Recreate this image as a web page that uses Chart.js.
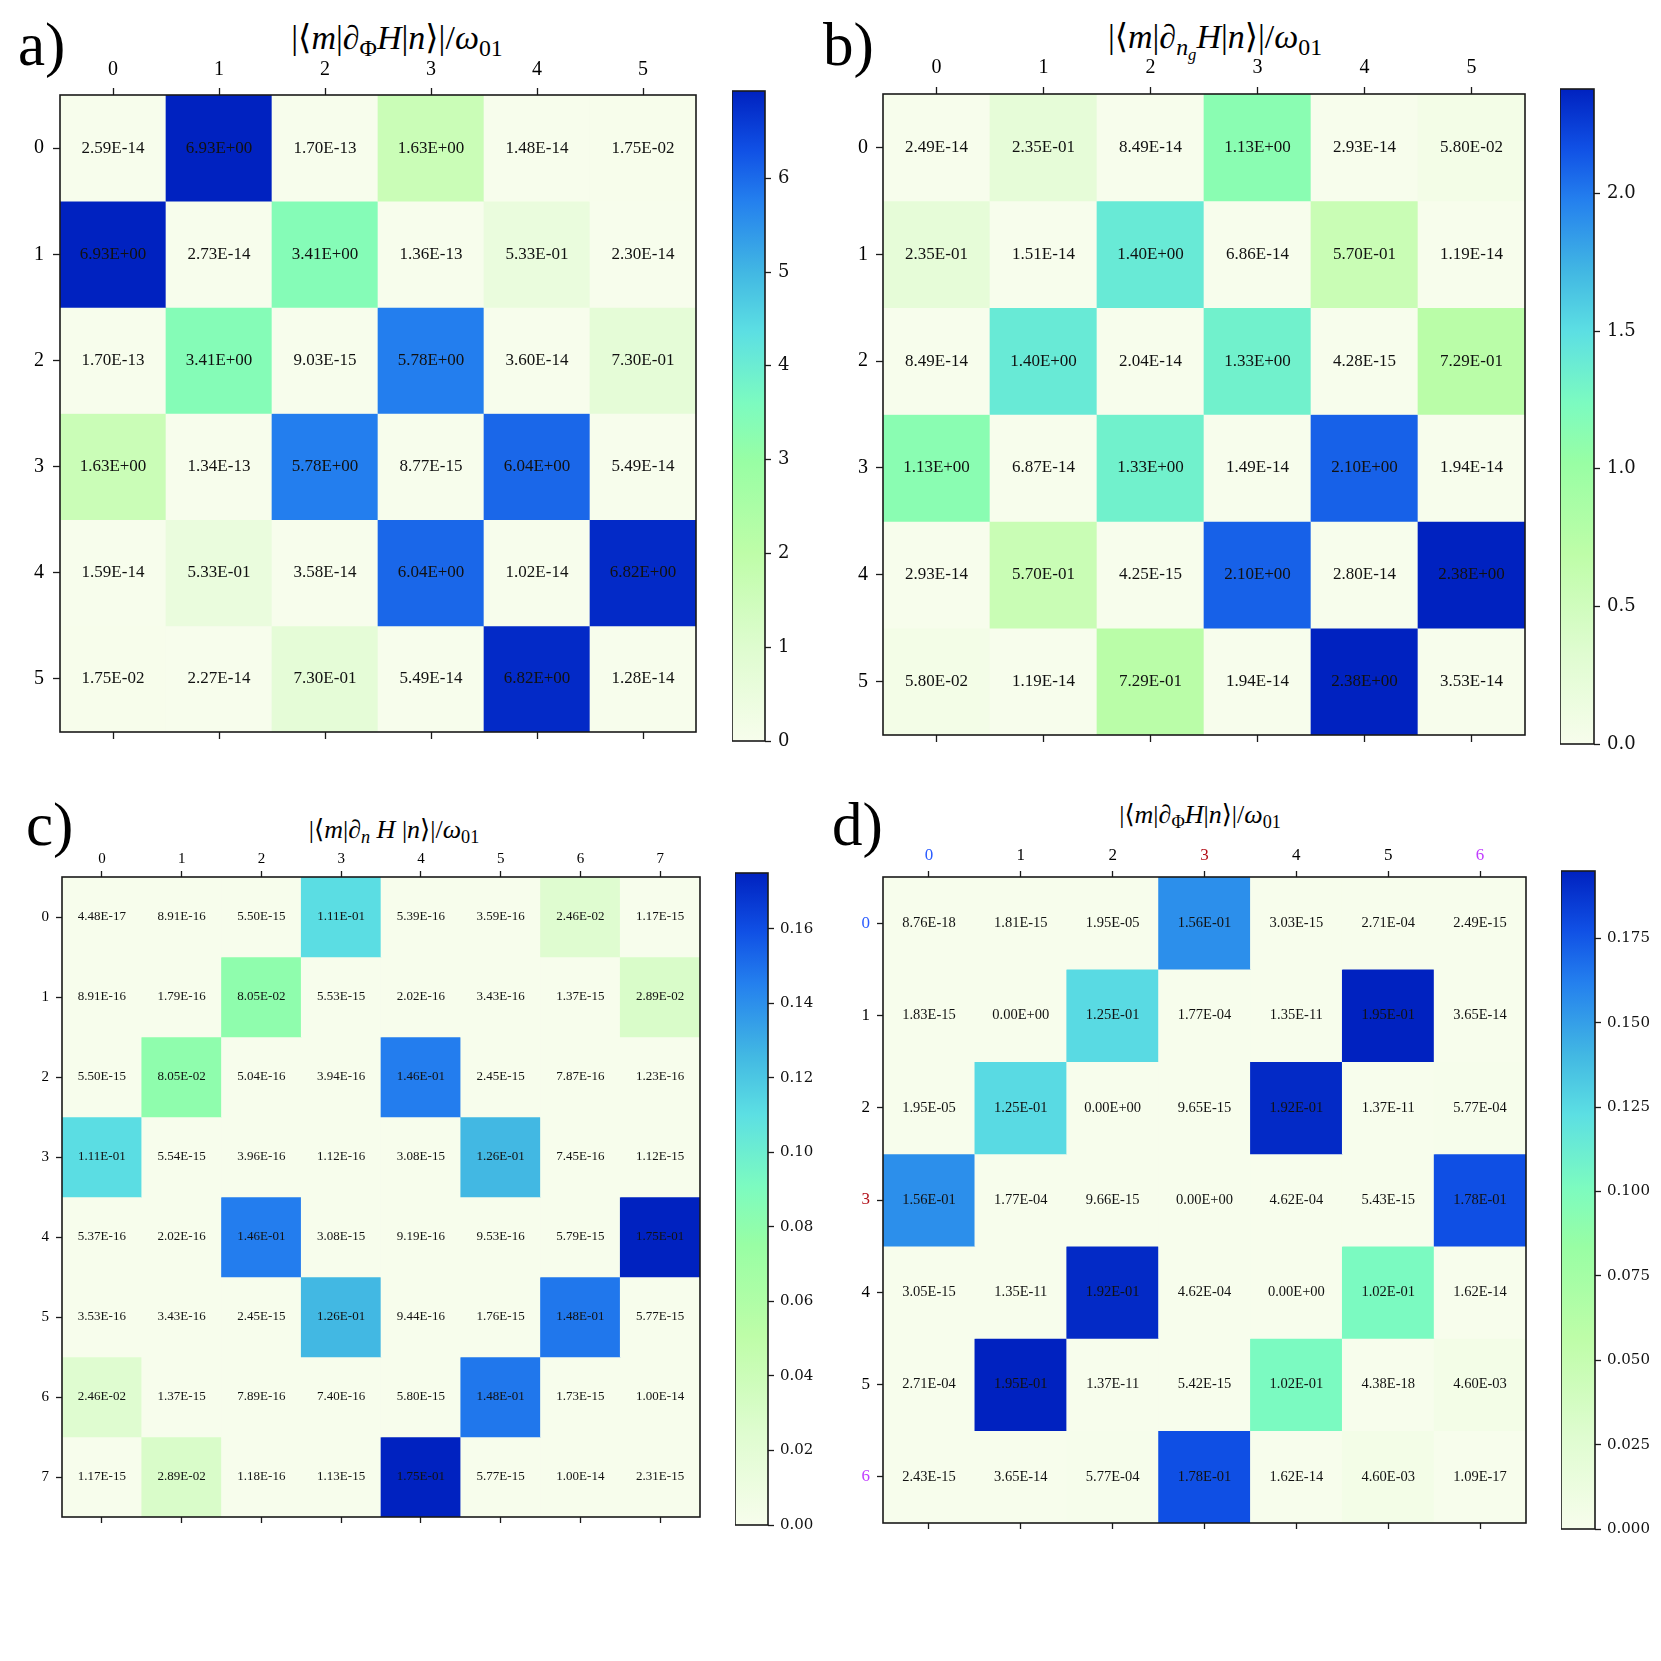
<!DOCTYPE html>
<html><head><meta charset="utf-8">
<script src="https://cdn.jsdelivr.net/npm/chart.js@4.4.0/dist/chart.umd.min.js"></script>
<style>
html,body{margin:0;padding:0;background:#fff;}
body{width:1661px;height:1661px;position:relative;overflow:hidden;font-family:'Liberation Serif','DejaVu Serif',serif;color:#000;}
canvas{position:absolute;}
.lbl{position:absolute;font-size:61px;line-height:1;white-space:nowrap;}
.ttl{position:absolute;white-space:nowrap;transform:translateX(-50%);line-height:1;}
.ttl i{font-style:italic;}
.ttl .s{font-size:70%;vertical-align:-0.28em;line-height:0;}
.ttl .ss{font-size:70%;vertical-align:-0.3em;line-height:0;}
</style></head><body>
<div class="lbl" style="left:18px;top:14px;">a)</div>
<div class="lbl" style="left:823px;top:14px;">b)</div>
<div class="lbl" style="left:26px;top:794px;">c)</div>
<div class="lbl" style="left:832px;top:794px;">d)</div>
<div class="ttl" style="left:397px;top:21px;font-size:34px;">|⟨<i>m</i>|<i>∂</i><span class="s">Φ</span><i>H</i>|<i>n</i>⟩|/<i>ω</i><span class="s">01</span></div>
<div class="ttl" style="left:1215px;top:20px;font-size:34px;">|⟨<i>m</i>|<i>∂</i><span class="s"><i>n</i><span class="ss"><i>g</i></span></span><i>H</i>|<i>n</i>⟩|/<i>ω</i><span class="s">01</span></div>
<div class="ttl" style="left:394px;top:817px;font-size:26px;">|⟨<i>m</i>|<i>∂</i><span class="s"><i>n</i></span> <i>H</i> |<i>n</i>⟩|/<i>ω</i><span class="s">01</span></div>
<div class="ttl" style="left:1200px;top:802px;font-size:26px;">|⟨<i>m</i>|<i>∂</i><span class="s">Φ</span><i>H</i>|<i>n</i>⟩|/<i>ω</i><span class="s">01</span></div>

<canvas id="ha"></canvas><canvas id="ca"></canvas>
<canvas id="hb"></canvas><canvas id="cb"></canvas>
<canvas id="hc"></canvas><canvas id="cc"></canvas>
<canvas id="hd"></canvas><canvas id="cd"></canvas>
<script>
// ---------------- data ----------------
const labelsA = ['0','1','2','3','4','5'];
const valuesA = [
  [2.59e-14, 6.93e+00, 1.70e-13, 1.63e+00, 1.48e-14, 1.75e-02],
  [6.93e+00, 2.73e-14, 3.41e+00, 1.36e-13, 5.33e-01, 2.30e-14],
  [1.70e-13, 3.41e+00, 9.03e-15, 5.78e+00, 3.60e-14, 7.30e-01],
  [1.63e+00, 1.34e-13, 5.78e+00, 8.77e-15, 6.04e+00, 5.49e-14],
  [1.59e-14, 5.33e-01, 3.58e-14, 6.04e+00, 1.02e-14, 6.82e+00],
  [1.75e-02, 2.27e-14, 7.30e-01, 5.49e-14, 6.82e+00, 1.28e-14]
];
const cbTicksA = [0, 1, 2, 3, 4, 5, 6];
const cbLabelsA = ['0','1','2','3','4','5','6'];

const labelsB = ['0','1','2','3','4','5'];
const valuesB = [
  [2.49e-14, 2.35e-01, 8.49e-14, 1.13e+00, 2.93e-14, 5.80e-02],
  [2.35e-01, 1.51e-14, 1.40e+00, 6.86e-14, 5.70e-01, 1.19e-14],
  [8.49e-14, 1.40e+00, 2.04e-14, 1.33e+00, 4.28e-15, 7.29e-01],
  [1.13e+00, 6.87e-14, 1.33e+00, 1.49e-14, 2.10e+00, 1.94e-14],
  [2.93e-14, 5.70e-01, 4.25e-15, 2.10e+00, 2.80e-14, 2.38e+00],
  [5.80e-02, 1.19e-14, 7.29e-01, 1.94e-14, 2.38e+00, 3.53e-14]
];
const cbTicksB = [0, 0.5, 1.0, 1.5, 2.0];
const cbLabelsB = ['0.0','0.5','1.0','1.5','2.0'];

const labelsC = ['0','1','2','3','4','5','6','7'];
const valuesC = [
  [4.48e-17, 8.91e-16, 5.50e-15, 1.11e-01, 5.39e-16, 3.59e-16, 2.46e-02, 1.17e-15],
  [8.91e-16, 1.79e-16, 8.05e-02, 5.53e-15, 2.02e-16, 3.43e-16, 1.37e-15, 2.89e-02],
  [5.50e-15, 8.05e-02, 5.04e-16, 3.94e-16, 1.46e-01, 2.45e-15, 7.87e-16, 1.23e-16],
  [1.11e-01, 5.54e-15, 3.96e-16, 1.12e-16, 3.08e-15, 1.26e-01, 7.45e-16, 1.12e-15],
  [5.37e-16, 2.02e-16, 1.46e-01, 3.08e-15, 9.19e-16, 9.53e-16, 5.79e-15, 1.75e-01],
  [3.53e-16, 3.43e-16, 2.45e-15, 1.26e-01, 9.44e-16, 1.76e-15, 1.48e-01, 5.77e-15],
  [2.46e-02, 1.37e-15, 7.89e-16, 7.40e-16, 5.80e-15, 1.48e-01, 1.73e-15, 1.00e-14],
  [1.17e-15, 2.89e-02, 1.18e-16, 1.13e-15, 1.75e-01, 5.77e-15, 1.00e-14, 2.31e-15]
];
const cbTicksC = [0, 0.02, 0.04, 0.06, 0.08, 0.10, 0.12, 0.14, 0.16];
const cbLabelsC = ['0.00','0.02','0.04','0.06','0.08','0.10','0.12','0.14','0.16'];

const labelsD = ['0','1','2','3','4','5','6'];
const valuesD = [
  [8.76e-18, 1.81e-15, 1.95e-05, 1.56e-01, 3.03e-15, 2.71e-04, 2.49e-15],
  [1.83e-15, 0.00e+00, 1.25e-01, 1.77e-04, 1.35e-11, 1.95e-01, 3.65e-14],
  [1.95e-05, 1.25e-01, 0.00e+00, 9.65e-15, 1.92e-01, 1.37e-11, 5.77e-04],
  [1.56e-01, 1.77e-04, 9.66e-15, 0.00e+00, 4.62e-04, 5.43e-15, 1.78e-01],
  [3.05e-15, 1.35e-11, 1.92e-01, 4.62e-04, 0.00e+00, 1.02e-01, 1.62e-14],
  [2.71e-04, 1.95e-01, 1.37e-11, 5.42e-15, 1.02e-01, 4.38e-18, 4.60e-03],
  [2.43e-15, 3.65e-14, 5.77e-04, 1.78e-01, 1.62e-14, 4.60e-03, 1.09e-17]
];
const cbTicksD = [0, 0.025, 0.05, 0.075, 0.1, 0.125, 0.15, 0.175];
const cbLabelsD = ['0.000','0.025','0.050','0.075','0.100','0.125','0.150','0.175'];

// ---------------- colormap ----------------
const CMAP = [
  [0.00, [247,253,236]],
  [0.14, [223,252,208]],
  [0.29, [190,253,168]],
  [0.43, [152,254,164]],
  [0.52, [124,251,192]],
  [0.63, [92,223,227]],
  [0.72, [66,184,227]],
  [0.83, [36,128,238]],
  [0.91, [16,80,229]],
  [1.00, [0,34,192]]
];
function cmap(t){
  t = Math.max(0, Math.min(1, t));
  for (let i = 1; i < CMAP.length; i++) {
    if (t <= CMAP[i][0]) {
      const [t0,c0] = CMAP[i-1], [t1,c1] = CMAP[i];
      const f = (t - t0) / (t1 - t0);
      const c = c0.map((v,k)=>Math.round(v + (c1[k]-v)*f));
      return 'rgb(' + c.join(',') + ')';
    }
  }
  return 'rgb(0,34,192)';
}
function fmt(v){
  const s = v.toExponential(2);
  const parts = s.split('e');
  const sign = parts[1][0] === '-' ? '-' : '+';
  let d = parts[1].replace(/[+-]/, '');
  if (d.length < 2) d = '0' + d;
  return parts[0] + 'E' + sign + d;
}
const maxOf = a => Math.max(...a.flat());

const framePlugin = {
  id: 'frame',
  afterDraw(chart){
    const a = chart.chartArea, ctx = chart.ctx;
    ctx.save(); ctx.strokeStyle = '#1a1a1a'; ctx.lineWidth = 1.6;
    ctx.strokeRect(a.left, a.top, a.right - a.left, a.bottom - a.top);
    ctx.restore();
  }
};

function place(cv, l, t, w, h){
  cv.width = w; cv.height = h;
  cv.style.left = l + 'px'; cv.style.top = t + 'px';
  cv.style.width = w + 'px'; cv.style.height = h + 'px';
}

function heatmap(id, labels, values, p){
  const n = labels.length;
  const vmax = maxOf(values);
  const YW = 45, TH = 45, BH = 32, RP = 4;
  const cv = document.getElementById(id);
  place(cv, p.L - YW, p.T - TH, p.W + YW + RP, p.H + TH + BH);
  const datasets = values.map((row, m) => ({
    data: row.map(() => [m - 0.5, m + 0.5]),
    backgroundColor: row.map(v => cmap(v / vmax)),
    borderWidth: 0, barPercentage: 1, categoryPercentage: 1, grouped: false,
    xAxisID: 'x', yAxisID: 'y'
  }));
  const tickColor = p.colors ? (c => p.colors[c.index] || '#000') : '#000';
  const grid = {offset:false, drawOnChartArea:false, drawTicks:true, tickLength:p.tl, tickWidth:1.3, tickColor:'#1a1a1a'};
  const font = {family:'Liberation Serif', size:p.fs};
  const textPlugin = {
    id: 'cellText',
    afterDatasetsDraw(chart){
      const ctx = chart.ctx, xs = chart.scales.x, ys = chart.scales.y;
      ctx.save();
      ctx.font = p.cfs + 'px "Liberation Serif"';
      ctx.fillStyle = '#111'; ctx.textAlign = 'center'; ctx.textBaseline = 'middle';
      values.forEach((row, m) => row.forEach((v, k) => {
        ctx.fillText(fmt(v), xs.getPixelForValue(k), ys.getPixelForValue(m));
      }));
      ctx.restore();
    }
  };
  new Chart(cv, {
    type: 'bar',
    data: {labels: labels, datasets: datasets},
    options: {
      responsive:false, animation:false, events:[],
      layout:{padding:{left:0, top:0, right:RP, bottom:0}},
      plugins:{legend:{display:false}, tooltip:{enabled:false}, title:{display:false}},
      scales:{
        x:{type:'category', position:'top', offset:true, grid:grid, border:{display:false},
           ticks:{font:font, color:tickColor, padding:p.xp, maxRotation:0, autoSkip:false},
           afterFit(s){ s.height = TH; }},
        x2:{type:'category', position:'bottom', offset:true, labels:labels, grid:grid, border:{display:false},
           ticks:{font:font, callback:()=>'', padding:0, autoSkip:false},
           afterFit(s){ s.height = BH; }},
        y:{type:'linear', position:'left', reverse:true, min:-0.5, max:n-0.5, grid:grid, border:{display:false},
           afterBuildTicks(s){ s.ticks = labels.map((_, i) => ({value:i})); },
           ticks:{font:font, color:tickColor, padding:p.yp, callback:(v)=>labels[v]},
           afterFit(s){ s.width = YW; }}
      }
    },
    plugins:[textPlugin, framePlugin]
  });
}

function colorbar(id, values, ticks, tickLabels, p){
  const vmax = maxOf(values);
  const RW = 80, PAD = 28;
  const cv = document.getElementById(id);
  place(cv, p.L, p.T - PAD, p.W + RW, p.H + 2*PAD);
  new Chart(cv, {
    type: 'bar',
    data: {labels:[''], datasets:[{
      data:[[0, vmax]], borderWidth:0, barPercentage:1, categoryPercentage:1,
      backgroundColor(c){
        const a = c.chart.chartArea; if (!a) return '#fff';
        const g = c.chart.ctx.createLinearGradient(0, a.bottom, 0, a.top);
        CMAP.forEach(s => g.addColorStop(s[0], 'rgb(' + s[1].join(',') + ')'));
        return g;
      }
    }]},
    options: {
      responsive:false, animation:false, events:[],
      layout:{padding:{left:0, top:PAD, right:0, bottom:PAD}},
      plugins:{legend:{display:false}, tooltip:{enabled:false}},
      scales:{
        x:{display:false, offset:true},
        y:{position:'right', min:0, max:vmax, border:{display:false},
           afterBuildTicks(s){ s.ticks = ticks.map(v => ({value:v})); },
           grid:{drawOnChartArea:false, drawTicks:true, tickLength:6, tickWidth:1.3, tickColor:'#1a1a1a'},
           ticks:{font:{family:'DejaVu Serif', size:p.fs}, color:'#111', padding:p.pad,
                  callback:(v, i)=>tickLabels[i]},
           afterFit(s){ s.width = RW; }}
      }
    },
    plugins:[framePlugin]
  });
}

heatmap('ha', labelsA, valuesA, {L:60, T:95, W:636, H:637, fs:20, cfs:17, tl:7, xp:6, yp:9});
colorbar('ca', valuesA, cbTicksA, cbLabelsA, {L:732, T:91, W:33, H:650, fs:18, pad:7});

heatmap('hb', labelsB, valuesB, {L:883, T:94, W:642, H:641, fs:20, cfs:17, tl:7, xp:7, yp:8});
colorbar('cb', valuesB, cbTicksB, cbLabelsB, {L:1560, T:89, W:34, H:655, fs:18, pad:7});

heatmap('hc', labelsC, valuesC, {L:62, T:877, W:638, H:640, fs:15, cfs:13, tl:6, xp:3, yp:7});
colorbar('cc', valuesC, cbTicksC, cbLabelsC, {L:735, T:873, W:33, H:652, fs:15, pad:6});

heatmap('hd', labelsD, valuesD, {L:883, T:877, W:643, H:646, fs:17, cfs:14.5, tl:6, xp:5, yp:7,
  colors:['#2b5cff','#000','#000','#b3121b','#000','#000','#c13cff']});
colorbar('cd', valuesD, cbTicksD, cbLabelsD, {L:1561, T:871, W:34, H:658, fs:15, pad:6});
</script>
</body></html>
